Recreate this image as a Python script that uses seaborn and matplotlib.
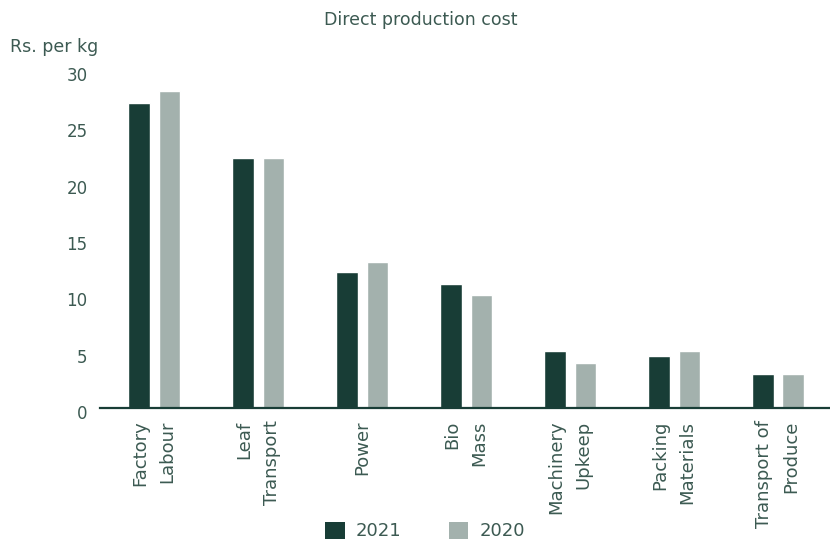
import matplotlib
matplotlib.use("Agg")
import matplotlib.pyplot as plt
import matplotlib.transforms as mtransforms
import seaborn as sns
import pandas as pd
from matplotlib.patches import Patch

categories = ["Factory\nLabour", "Leaf\nTransport", "Power", "Bio\nMass",
              "Machinery\nUpkeep", "Packing\nMaterials", "Transport of\nProduce"]
values_2021 = [27.1, 22.2, 12.1, 11.0, 5.1, 4.6, 3.0]
values_2020 = [28.1, 22.2, 13.0, 10.0, 4.0, 5.1, 3.0]
years = ["2021", "2020"]
y_ticks = [0, 5, 10, 15, 20, 25, 30]

dark = "#183d36"
light = "#a3b1ad"
text_col = "#3c5a52"

df = pd.DataFrame({
    "category": categories * 2,
    "value": values_2021 + values_2020,
    "year": [years[0]] * len(categories) + [years[1]] * len(categories),
})

sns.set_theme(style="white")
plt.rcParams["font.family"] = ["DejaVu Sans"]

fig = plt.figure(figsize=(8.3, 5.45), dpi=100)
ax = fig.add_axes([100 / 830, 1 - 408 / 545, (830 - 100) / 830, (408 - 70) / 545])

sns.barplot(data=df, x="category", y="value", hue="year", order=categories,
            hue_order=years, palette=[dark, light], width=0.586, gap=0.295,
            saturation=1, legend=False, ax=ax)

ax.set_xlim(-0.52, 6.5)
ax.set_ylim(0, 30)
ax.set_yticks(y_ticks)
ax.set_yticklabels([str(t) for t in y_ticks], fontsize=12, color=text_col)
ax.set_xlabel("")
ax.set_ylabel("")
for side in ["top", "right", "left"]:
    ax.spines[side].set_visible(False)
ax.spines["bottom"].set_color(dark)
ax.spines["bottom"].set_linewidth(1.6)
ax.tick_params(axis="y", length=0, pad=9)
ax.tick_params(axis="x", length=0, pad=9)
ax.set_xticks(range(len(categories)))
ax.set_xticklabels(categories, rotation=90, fontsize=13, color=text_col,
                   multialignment="right", va="top", ha="center", linespacing=1.65)

# value labels sit a few pixels below their gridline position
shift = mtransforms.ScaledTranslation(0, -4 / 100, fig.dpi_scale_trans)
for lbl in ax.get_yticklabels():
    lbl.set_transform(lbl.get_transform() + shift)

fig.text(421 / 830, 1 - 20 / 545, "Direct production cost", ha="center",
         va="center", fontsize=12.5, color=text_col)
fig.text(10 / 830, 1 - 47 / 545, "Rs. per kg", ha="left", va="center",
         fontsize=12.5, color=text_col)

handles = [Patch(facecolor=dark, edgecolor="none"), Patch(facecolor=light, edgecolor="none")]
fig.legend(handles, years, loc="center", bbox_to_anchor=(425 / 830, 1 - 531 / 545),
           ncol=2, frameon=False, fontsize=13, labelcolor=text_col,
           handlelength=1.1, handleheight=1.1, columnspacing=2.6, handletextpad=0.6)

fig.savefig("out.png", dpi=100)
